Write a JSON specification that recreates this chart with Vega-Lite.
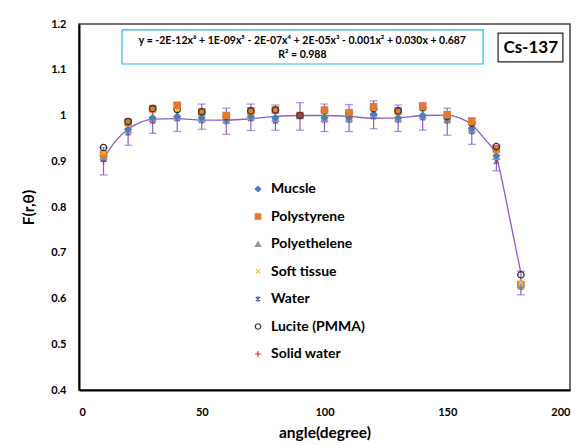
{
  "$schema": "https://vega.github.io/schema/vega-lite/v6.json",
  "width": 491,
  "height": 366,
  "autosize": {"type": "none"},
  "padding": {"left": 79, "top": 24, "right": 18, "bottom": 55},
  "background": "white",
  "config": {
    "font": "Lato",
    "view": {"stroke": "#444444", "strokeWidth": 1.5},
    "axis": {"grid": false, "ticks": false, "zindex": 1, "domainColor": "#000000", "domainWidth": 2, "labelFont": "Lato", "labelFontWeight": "bold", "labelColor": "#000000", "titleFont": "Lato", "titleFontWeight": "bold", "titleColor": "#000000"},
    "legend": {"orient": "none", "legendX": 172, "legendY": 158, "title": null, "labelFontSize": 14, "labelFont": "Lato", "labelFontWeight": "bold", "labelColor": "#000000", "rowPadding": 13.5, "symbolSize": 30, "labelOffset": 6, "symbolStrokeWidth": 1.2}
  },
  "datasets": {
    "pts": [
      {"angle":10,"series":"Mucsle","F":0.912},{"angle":20,"series":"Mucsle","F":0.970},{"angle":30,"series":"Mucsle","F":0.995},{"angle":40,"series":"Mucsle","F":0.998},{"angle":50,"series":"Mucsle","F":0.995},{"angle":60,"series":"Mucsle","F":0.992},{"angle":70,"series":"Mucsle","F":0.998},{"angle":80,"series":"Mucsle","F":0.995},{"angle":90,"series":"Mucsle","F":1.000},{"angle":100,"series":"Mucsle","F":0.995},{"angle":110,"series":"Mucsle","F":0.995},{"angle":120,"series":"Mucsle","F":1.003},{"angle":130,"series":"Mucsle","F":0.995},{"angle":140,"series":"Mucsle","F":1.000},{"angle":150,"series":"Mucsle","F":0.993},{"angle":160,"series":"Mucsle","F":0.972},{"angle":170,"series":"Mucsle","F":0.912},{"angle":180,"series":"Mucsle","F":0.628},
      {"angle":10,"series":"Polystyrene","F":0.915},{"angle":20,"series":"Polystyrene","F":0.985},{"angle":30,"series":"Polystyrene","F":1.015},{"angle":40,"series":"Polystyrene","F":1.022},{"angle":50,"series":"Polystyrene","F":1.008},{"angle":60,"series":"Polystyrene","F":1.000},{"angle":70,"series":"Polystyrene","F":1.010},{"angle":80,"series":"Polystyrene","F":1.012},{"angle":90,"series":"Polystyrene","F":1.000},{"angle":100,"series":"Polystyrene","F":1.012},{"angle":110,"series":"Polystyrene","F":1.006},{"angle":120,"series":"Polystyrene","F":1.019},{"angle":130,"series":"Polystyrene","F":1.010},{"angle":140,"series":"Polystyrene","F":1.020},{"angle":150,"series":"Polystyrene","F":1.002},{"angle":160,"series":"Polystyrene","F":0.987},{"angle":170,"series":"Polystyrene","F":0.927},{"angle":180,"series":"Polystyrene","F":0.630},
      {"angle":10,"series":"Polyethelene","F":0.910},{"angle":20,"series":"Polyethelene","F":0.968},{"angle":30,"series":"Polyethelene","F":0.993},{"angle":40,"series":"Polyethelene","F":0.997},{"angle":50,"series":"Polyethelene","F":0.993},{"angle":60,"series":"Polyethelene","F":0.990},{"angle":70,"series":"Polyethelene","F":0.997},{"angle":80,"series":"Polyethelene","F":0.993},{"angle":90,"series":"Polyethelene","F":1.000},{"angle":100,"series":"Polyethelene","F":0.993},{"angle":110,"series":"Polyethelene","F":0.994},{"angle":120,"series":"Polyethelene","F":1.002},{"angle":130,"series":"Polyethelene","F":0.994},{"angle":140,"series":"Polyethelene","F":0.999},{"angle":150,"series":"Polyethelene","F":0.992},{"angle":160,"series":"Polyethelene","F":0.970},{"angle":170,"series":"Polyethelene","F":0.910},{"angle":180,"series":"Polyethelene","F":0.632},
      {"angle":10,"series":"Soft tissue","F":0.920},{"angle":20,"series":"Soft tissue","F":0.980},{"angle":30,"series":"Soft tissue","F":1.010},{"angle":40,"series":"Soft tissue","F":1.012},{"angle":50,"series":"Soft tissue","F":1.005},{"angle":60,"series":"Soft tissue","F":0.998},{"angle":70,"series":"Soft tissue","F":1.008},{"angle":80,"series":"Soft tissue","F":1.010},{"angle":90,"series":"Soft tissue","F":1.000},{"angle":100,"series":"Soft tissue","F":1.008},{"angle":110,"series":"Soft tissue","F":1.005},{"angle":120,"series":"Soft tissue","F":1.015},{"angle":130,"series":"Soft tissue","F":1.008},{"angle":140,"series":"Soft tissue","F":1.015},{"angle":150,"series":"Soft tissue","F":1.000},{"angle":160,"series":"Soft tissue","F":0.983},{"angle":170,"series":"Soft tissue","F":0.922},{"angle":180,"series":"Soft tissue","F":0.635},
      {"angle":10,"series":"Water","F":0.905},{"angle":20,"series":"Water","F":0.962},{"angle":30,"series":"Water","F":0.988},{"angle":40,"series":"Water","F":0.993},{"angle":50,"series":"Water","F":0.989},{"angle":60,"series":"Water","F":0.987},{"angle":70,"series":"Water","F":0.993},{"angle":80,"series":"Water","F":0.988},{"angle":90,"series":"Water","F":1.000},{"angle":100,"series":"Water","F":0.990},{"angle":110,"series":"Water","F":0.990},{"angle":120,"series":"Water","F":0.997},{"angle":130,"series":"Water","F":0.990},{"angle":140,"series":"Water","F":0.995},{"angle":150,"series":"Water","F":0.988},{"angle":160,"series":"Water","F":0.965},{"angle":170,"series":"Water","F":0.900},{"angle":180,"series":"Water","F":0.625},
      {"angle":10,"series":"Lucite (PMMA)","F":0.930},{"angle":20,"series":"Lucite (PMMA)","F":0.987},{"angle":30,"series":"Lucite (PMMA)","F":1.015},{"angle":40,"series":"Lucite (PMMA)","F":1.013},{"angle":50,"series":"Lucite (PMMA)","F":1.008},{"angle":60,"series":"Lucite (PMMA)","F":0.998},{"angle":70,"series":"Lucite (PMMA)","F":1.010},{"angle":80,"series":"Lucite (PMMA)","F":1.012},{"angle":90,"series":"Lucite (PMMA)","F":1.000},{"angle":100,"series":"Lucite (PMMA)","F":1.010},{"angle":110,"series":"Lucite (PMMA)","F":1.005},{"angle":120,"series":"Lucite (PMMA)","F":1.015},{"angle":130,"series":"Lucite (PMMA)","F":1.010},{"angle":140,"series":"Lucite (PMMA)","F":1.017},{"angle":150,"series":"Lucite (PMMA)","F":0.998},{"angle":160,"series":"Lucite (PMMA)","F":0.983},{"angle":170,"series":"Lucite (PMMA)","F":0.932},{"angle":180,"series":"Lucite (PMMA)","F":0.652},
      {"angle":10,"series":"Solid water","F":0.900},{"angle":20,"series":"Solid water","F":0.965},{"angle":30,"series":"Solid water","F":0.990},{"angle":40,"series":"Solid water","F":0.995},{"angle":50,"series":"Solid water","F":0.990},{"angle":60,"series":"Solid water","F":0.988},{"angle":70,"series":"Solid water","F":0.996},{"angle":80,"series":"Solid water","F":0.990},{"angle":90,"series":"Solid water","F":1.000},{"angle":100,"series":"Solid water","F":0.990},{"angle":110,"series":"Solid water","F":0.992},{"angle":120,"series":"Solid water","F":1.000},{"angle":130,"series":"Solid water","F":0.992},{"angle":140,"series":"Solid water","F":0.997},{"angle":150,"series":"Solid water","F":0.990},{"angle":160,"series":"Solid water","F":0.967},{"angle":170,"series":"Solid water","F":0.905},{"angle":180,"series":"Solid water","F":0.630}
    ],
    "err": [
      {"angle":10,"lo":0.870,"hi":0.930},{"angle":20,"lo":0.935,"hi":0.992},{"angle":30,"lo":0.961,"hi":1.020},{"angle":40,"lo":0.965,"hi":1.027},{"angle":50,"lo":0.970,"hi":1.025},{"angle":60,"lo":0.959,"hi":1.016},{"angle":70,"lo":0.967,"hi":1.025},{"angle":80,"lo":0.968,"hi":1.023},{"angle":90,"lo":0.968,"hi":1.028},{"angle":100,"lo":0.965,"hi":1.025},{"angle":110,"lo":0.965,"hi":1.024},{"angle":120,"lo":0.971,"hi":1.032},{"angle":130,"lo":0.965,"hi":1.023},{"angle":140,"lo":0.968,"hi":1.028},{"angle":150,"lo":0.957,"hi":1.016},{"angle":160,"lo":0.937,"hi":0.995},{"angle":170,"lo":0.879,"hi":0.935},{"angle":180,"lo":0.608,"hi":0.660}
    ],
    "trend": [
      {"angle":10,"F":0.905},{"angle":15,"F":0.945},{"angle":20,"F":0.970},{"angle":25,"F":0.985},{"angle":30,"F":0.992},{"angle":40,"F":0.993},{"angle":50,"F":0.990},{"angle":60,"F":0.990},{"angle":70,"F":0.993},{"angle":80,"F":0.998},{"angle":90,"F":1.000},{"angle":100,"F":1.000},{"angle":110,"F":0.998},{"angle":120,"F":0.994},{"angle":130,"F":0.995},{"angle":140,"F":1.000},{"angle":150,"F":1.001},{"angle":155,"F":0.995},{"angle":160,"F":0.980},{"angle":165,"F":0.950},{"angle":170,"F":0.910},{"angle":172,"F":0.866},{"angle":175,"F":0.787},{"angle":180,"F":0.656}
    ],
    "boxes": [
      {"x":17.5,"x2":164.6,"y":1.187,"y2":1.1126,"box":"eq"},
      {"x":170.7,"x2":197.1,"y":1.180,"y2":1.117,"box":"cs"}
    ],
    "labels": [
      {"x":91,"y":1.163,"text":"y = -2E-12x⁶ + 1E-09x⁵ - 2E-07x⁴ + 2E-05x³ - 0.001x² + 0.030x + 0.687"},
      {"x":91,"y":1.132,"text":"R² = 0.988"}
    ],
    "cs": [
      {"x":184,"y":1.148,"text":"Cs-137"}
    ]
  },
  "layer": [
    {
      "data": {"name": "trend"},
      "mark": {"type": "line", "interpolate": "monotone", "color": "#8e5ccf", "strokeWidth": 1.3},
      "encoding": {
        "x": {"field": "angle", "type": "quantitative", "scale": {"domain": [0, 200]}, "axis": {"values": [0, 50, 100, 150, 200], "labelFontSize": 11, "labelPadding": 16, "title": "angle(degree)", "titleFontSize": 15.5, "titlePadding": 8}},
        "y": {"field": "F", "type": "quantitative", "scale": {"domain": [0.4, 1.2]}, "axis": {"values": [0.4, 0.5, 0.6, 0.7, 0.8, 0.9, 1, 1.1, 1.2], "labelExpr": "datum.value == 1 ? '1' : format(datum.value, '.1f')", "labelFontSize": 11, "labelPadding": 13, "title": "F(r,θ)", "titleFontSize": 15.5, "titlePadding": 14}}
      }
    },
    {
      "data": {"name": "err"},
      "mark": {"type": "rule", "color": "#8e5ccf", "strokeWidth": 1.2},
      "encoding": {
        "x": {"field": "angle", "type": "quantitative"},
        "y": {"field": "lo", "type": "quantitative"},
        "y2": {"field": "hi"}
      }
    },
    {
      "data": {"name": "err"},
      "mark": {"type": "tick", "orient": "horizontal", "color": "#8e5ccf", "thickness": 1.2, "size": 8},
      "encoding": {
        "x": {"field": "angle", "type": "quantitative"},
        "y": {"field": "lo", "type": "quantitative"}
      }
    },
    {
      "data": {"name": "err"},
      "mark": {"type": "tick", "orient": "horizontal", "color": "#8e5ccf", "thickness": 1.2, "size": 8},
      "encoding": {
        "x": {"field": "angle", "type": "quantitative"},
        "y": {"field": "hi", "type": "quantitative"}
      }
    },
    {
      "data": {"name": "pts"},
      "mark": {"type": "point", "size": 40, "strokeWidth": 1.3, "opacity": 1},
      "encoding": {
        "x": {"field": "angle", "type": "quantitative"},
        "y": {"field": "F", "type": "quantitative"},
        "shape": {"field": "series", "type": "nominal", "scale": {"domain": ["Mucsle", "Polystyrene", "Polyethelene", "Soft tissue", "Water", "Lucite (PMMA)", "Solid water"], "range": ["diamond", "square", "triangle-up", "M-0.8,-0.8L0.8,0.8M-0.8,0.8L0.8,-0.8", "M-0.8,-0.8L0.8,0.8M-0.8,0.8L0.8,-0.8M0,-1L0,1", "circle", "M-1,0L1,0M0,-1L0,1"]}},
        "fill": {"field": "series", "type": "nominal", "scale": {"domain": ["Mucsle", "Polystyrene", "Polyethelene", "Soft tissue", "Water", "Lucite (PMMA)", "Solid water"], "range": ["#4a7ebb", "#e07b30", "#9a9a9a", "transparent", "transparent", "transparent", "transparent"]}},
        "stroke": {"field": "series", "type": "nominal", "scale": {"domain": ["Mucsle", "Polystyrene", "Polyethelene", "Soft tissue", "Water", "Lucite (PMMA)", "Solid water"], "range": ["#4a7ebb", "#e07b30", "#9a9a9a", "#f5c242", "#4a5fae", "#333333", "#e8201c"]}},
        "order": {"field": "F", "type": "quantitative"}
      }
    },
    {
      "data": {"name": "boxes"},
      "mark": {"type": "rect", "fill": "white", "strokeWidth": 1.2},
      "encoding": {
        "x": {"field": "x", "type": "quantitative"},
        "x2": {"field": "x2"},
        "y": {"field": "y", "type": "quantitative"},
        "y2": {"field": "y2"},
        "stroke": {"condition": {"test": "datum.box == 'eq'", "value": "#1fb8e8"}, "value": "#222222"}
      }
    },
    {
      "data": {"name": "labels"},
      "mark": {"type": "text", "fontSize": 10.5, "fontWeight": "bold", "font": "Lato", "color": "#000000", "align": "center", "baseline": "middle"},
      "encoding": {
        "x": {"field": "x", "type": "quantitative"},
        "y": {"field": "y", "type": "quantitative"},
        "text": {"field": "text"}
      }
    },
    {
      "data": {"name": "cs"},
      "mark": {"type": "text", "fontSize": 17, "fontWeight": "bold", "font": "Lato", "color": "#000000", "align": "center", "baseline": "middle"},
      "encoding": {
        "x": {"field": "x", "type": "quantitative"},
        "y": {"field": "y", "type": "quantitative"},
        "text": {"field": "text"}
      }
    }
  ]
}
